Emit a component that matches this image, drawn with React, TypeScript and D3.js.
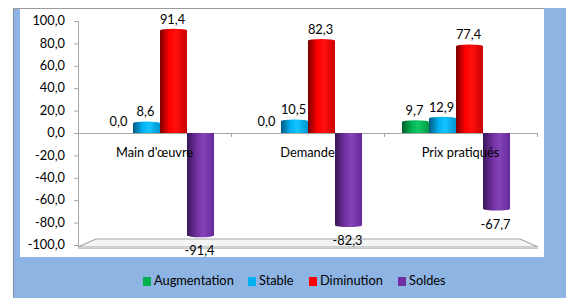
import React from "react";
import * as d3 from "d3";

const categories = ["Main d'œuvre", "Demande", "Prix pratiqués"];
const seriesNames = ["Augmentation", "Stable", "Diminution", "Soldes"];
const augmentation = [0.0, 0.0, 9.7];
const stable = [8.6, 10.5, 12.9];
const diminution = [91.4, 82.3, 77.4];
const soldes = [-91.4, -82.3, -67.7];
const yTicks = [100, 80, 60, 40, 20, 0, -20, -40, -60, -80, -100];

const seriesValues = [augmentation, stable, diminution, soldes];
const colors = [
  { base: "#00B050", dark: "#005e2a", light: "#12c866", right: "#009a45" },
  { base: "#00B0F0", dark: "#005a80", light: "#14c4ff", right: "#0095cc" },
  { base: "#FF0000", dark: "#7a0000", light: "#ff1010", right: "#cc0000" },
  { base: "#7030A0", dark: "#381656", light: "#8444b8", right: "#64289a" },
];

const W = 566;
const H = 298;
const FONT = "Lato, 'Open Sans', sans-serif";
const FS = 12.8;

const fmt = (v: number) => d3.format(".1f")(v).replace(".", ",").replace("−", "-");

export default function App() {
  const y = d3.scaleLinear().domain([-100, 100]).range([245, 21]);
  const x = d3.scaleBand<string>().domain(categories).range([86, 530]);
  const xs = d3
    .scaleBand<string>()
    .domain(seriesNames)
    .range([0, x.bandwidth()])
    .paddingOuter(0.74);
  const xBack = d3.scaleBand<string>().domain(categories).range([78, 537]);
  const y0 = y(0);
  const axisX = 78;
  const bw = xs.bandwidth();

  const legendX = [143, 248, 309, 398];

  return (
    <svg width={W} height={H} style={{ display: "block" }} fontFamily={FONT}>
      <style>{`body{margin:0}`}</style>
      <defs>
        {colors.map((c, i) => (
          <linearGradient key={i} id={`g${i}`} x1="0" x2="1" y1="0" y2="0">
            <stop offset="0%" stopColor={c.dark} />
            <stop offset="35%" stopColor={c.base} />
            <stop offset="60%" stopColor={c.light} />
            <stop offset="100%" stopColor={c.right} />
          </linearGradient>
        ))}
      </defs>
      <rect x={0} y={0} width={W} height={H} fill="#ffffff" />
      <rect x={13} y={8} width={W - 13} height={H - 8} fill="#8DB4E2" />
      <line x1={13.5} x2={13.5} y1={8} y2={H} stroke="#7f8fa0" strokeWidth={1} />
      <rect x={20} y={9} width={524} height={248} fill="#ffffff" />
      <line x1={13} x2={544} y1={8.5} y2={8.5} stroke="#9a9a9a" strokeWidth={1} />

      {/* floor */}
      <polygon
        points={`${axisX},${y(-100) + 2} ${axisX + 18},${y(-100) - 6} 520,${y(-100) - 6} 538,${y(-100) + 2}`}
        fill="#f4f4f4"
        stroke="#a6a6a6"
        strokeWidth={1.2}
      />
      <line x1={axisX} x2={538} y1={y(-100) + 3.5} y2={y(-100) + 3.5} stroke="#c8c8c8" strokeWidth={1} />

      {/* y axis */}
      <line x1={axisX + 0.5} x2={axisX + 0.5} y1={y(100)} y2={y(-100) + 2} stroke="#a6a6a6" />
      {yTicks.map((t) => (
        <g key={t}>
          <line x1={axisX - 4} x2={axisX} y1={y(t) + 0.5} y2={y(t) + 0.5} stroke="#a6a6a6" />
          <text
            x={65}
            y={y(t) + 1}
            textAnchor="end"
            dominantBaseline="middle"
            fontSize={FS}
            fill="#000"
          >
            {fmt(t)}
          </text>
        </g>
      ))}

      {/* zero line */}
      <line x1={axisX} x2={537} y1={y0 + 0.5} y2={y0 + 0.5} stroke="#a6a6a6" />
      {categories.map((c) => (
        <line
          key={c}
          x1={(xBack(c) as number) + 0.5}
          x2={(xBack(c) as number) + 0.5}
          y1={y0}
          y2={y0 + 4}
          stroke="#a6a6a6"
        />
      ))}
      <line x1={537.5} x2={537.5} y1={y0} y2={y0 + 4} stroke="#a6a6a6" />

      {/* bars */}
      {categories.map((c, ci) =>
        seriesNames.map((s, si) => {
          const v = seriesValues[si][ci];
          const bx = (x(c) as number) + (xs(s) as number);
          const top = Math.min(y(v), y0);
          const h = Math.abs(y(v) - y0);
          const cx = bx + bw / 2;
          return (
            <g key={c + s}>
              {h > 0.5 && (
                <>
                  <rect x={bx} y={top} width={bw} height={h} fill={`url(#g${si})`} />
                  {v > 0 ? (
                    <ellipse cx={cx} cy={top} rx={bw / 2} ry={1.8} fill={`url(#g${si})`} />
                  ) : (
                    <ellipse cx={cx} cy={top + h} rx={bw / 2} ry={1.8} fill={`url(#g${si})`} />
                  )}
                </>
              )}
            </g>
          );
        })
      )}

      {/* category labels (drawn over bars) */}
      {categories.map((c) => (
        <text
          key={c}
          x={(xBack(c) as number) + xBack.bandwidth() / 2}
          y={y0 + 24}
          textAnchor="middle"
          fontSize={FS}
          fill="#000"
        >
          {c}
        </text>
      ))}

      {/* value labels */}
      {categories.map((c, ci) =>
        seriesNames.map((s, si) => {
          const v = seriesValues[si][ci];
          const bx = (x(c) as number) + (xs(s) as number);
          const cx = bx + bw / 2;
          const ly = v >= 0 ? y(v) - 7 : y(v) + 20;
          return (
            <text key={c + s + "l"} x={cx - 1} y={ly} textAnchor="middle" fontSize={FS} fill="#000">
              {fmt(v)}
            </text>
          );
        })
      )}

      {/* legend */}
      {seriesNames.map((s, i) => (
        <g key={s}>
          <rect x={legendX[i]} y={277} width={8} height={9} fill={colors[i].base} />
          <text x={legendX[i] + 11} y={282} dominantBaseline="middle" fontSize={FS} fill="#000">
            {s}
          </text>
        </g>
      ))}
    </svg>
  );
}
